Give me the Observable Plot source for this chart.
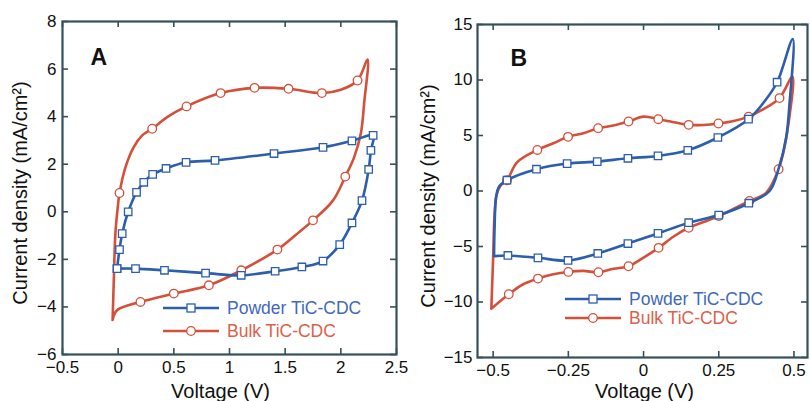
<!DOCTYPE html>
<html><head><meta charset="utf-8">
<script src="https://cdn.jsdelivr.net/npm/d3@7"></script>
<script src="https://cdn.jsdelivr.net/npm/@observablehq/plot@0.6"></script>
<style>
html,body{margin:0;padding:0;background:#fff;}
#wrap{position:relative;width:810px;height:401px;overflow:hidden;background:#fff;font-family:"Liberation Sans",Arial,Helvetica,sans-serif;}
.panel{position:absolute;top:0;}
.leg{position:absolute;display:flex;align-items:center;font-size:17.5px;line-height:16px;white-space:nowrap;}
.leg svg{display:block;margin-right:8px;}
</style></head><body><div id="wrap"></div>
<script>
// ---------- Panel A ----------
const xTicksA = [-0.5, 0, 0.5, 1, 1.5, 2, 2.5];
const yTicksA = [-6, -4, -2, 0, 2, 4, 6, 8];
// Powder TiC-CDC (line and square markers)
const powderA_V = [-0.01, 0.012, 0.036, 0.09, 0.165, 0.23, 0.31, 0.43, 0.61, 0.87, 1.40, 1.84, 2.10, 2.29, 2.27, 2.25, 2.19, 2.10, 1.99, 1.84, 1.65, 1.41, 1.105, 0.785, 0.416, 0.156, -0.01];
const powderA_J = [-2.39, -1.59, -0.92, 0.0, 0.82, 1.24, 1.57, 1.82, 2.08, 2.16, 2.45, 2.71, 2.98, 3.21, 2.58, 1.78, 0.47, -0.47, -1.38, -2.07, -2.32, -2.50, -2.67, -2.58, -2.46, -2.39, -2.39];
// Bulk TiC-CDC line
const bulkA_V = [-0.05, -0.04, -0.025, 0.0, 0.012, 0.066, 0.14, 0.216, 0.306, 0.44, 0.614, 0.92, 1.225, 1.53, 1.83, 2.0, 2.15, 2.24, 2.21, 2.18, 2.12, 2.04, 1.93, 1.75, 1.6, 1.43, 1.106, 0.815, 0.5, 0.2, -0.01, -0.05];
const bulkA_J = [-4.55, -3.02, -0.92, 0.35, 0.79, 1.88, 2.72, 3.21, 3.49, 3.98, 4.43, 4.99, 5.21, 5.17, 4.99, 5.13, 5.52, 6.4, 4.6, 3.3, 2.3, 1.48, 0.48, -0.36, -0.95, -1.59, -2.46, -3.09, -3.44, -3.79, -4.14, -4.55];
// Bulk TiC-CDC circle markers
const bulkA_markV = [0.012, 0.306, 0.614, 0.92, 1.225, 1.53, 1.83, 2.15, 2.04, 1.75, 1.43, 1.106, 0.815, 0.5, 0.2];
const bulkA_markJ = [0.79, 3.49, 4.43, 4.99, 5.21, 5.17, 4.99, 5.52, 1.48, -0.36, -1.59, -2.46, -3.09, -3.44, -3.79];

// ---------- Panel B ----------
const xTicksB = [-0.5, -0.25, 0, 0.25, 0.5];
const yTicksB = [-15, -10, -5, 0, 5, 10, 15];
const powderB_V = [-0.497, -0.495, -0.49, -0.48, -0.454, -0.356, -0.254, -0.154, -0.052, 0.048, 0.147, 0.247, 0.349, 0.40, 0.444, 0.496, 0.485, 0.474, 0.45, 0.419, 0.35, 0.25, 0.15, 0.048, -0.052, -0.152, -0.251, -0.351, -0.451, -0.497];
const powderB_J = [-5.87, -3.0, -0.5, 0.4, 0.97, 1.96, 2.47, 2.65, 2.95, 3.16, 3.67, 4.82, 6.47, 8.0, 9.8, 13.7, 7.8, 4.8, 2.1, 0.0, -1.1, -2.17, -2.86, -3.82, -4.73, -5.63, -6.26, -6.02, -5.81, -5.87];
const powderB_markV = [-0.454, -0.356, -0.254, -0.154, -0.052, 0.048, 0.147, 0.247, 0.349, 0.444, 0.35, 0.25, 0.15, 0.048, -0.052, -0.152, -0.251, -0.351, -0.451];
const powderB_markJ = [0.97, 1.96, 2.47, 2.65, 2.95, 3.16, 3.67, 4.82, 6.47, 9.8, -1.1, -2.17, -2.86, -3.82, -4.73, -5.63, -6.26, -6.02, -5.81];
const bulkB_V = [-0.506, -0.5, -0.495, -0.488, -0.475, -0.454, -0.42, -0.353, -0.3, -0.251, -0.2, -0.151, -0.1, -0.05, 0.0, 0.049, 0.1, 0.15, 0.2, 0.249, 0.3, 0.349, 0.4, 0.452, 0.495, 0.483, 0.468, 0.449, 0.408, 0.352, 0.3, 0.25, 0.2, 0.15, 0.1, 0.05, 0.0, -0.05, -0.1, -0.15, -0.2, -0.25, -0.3, -0.351, -0.4, -0.448, -0.506];
const bulkB_J = [-10.6, -6, -2, -0.3, 0.5, 0.97, 2.6, 3.70, 4.3, 4.88, 5.2, 5.66, 5.9, 6.26, 6.7, 6.47, 6.2, 5.96, 5.95, 6.08, 6.3, 6.7, 7.4, 8.37, 10.3, 6.3, 3.9, 1.96, -0.15, -0.9, -1.6, -2.26, -2.8, -3.31, -4.1, -5.12, -6.0, -6.78, -7.0, -7.32, -7.2, -7.29, -7.5, -7.89, -8.4, -9.3, -10.6];
const bulkB_markV = [-0.454, -0.353, -0.251, -0.151, -0.05, 0.049, 0.15, 0.249, 0.349, 0.452, 0.449, 0.352, 0.25, 0.15, 0.05, -0.05, -0.15, -0.25, -0.351, -0.448];
const bulkB_markJ = [0.97, 3.70, 4.88, 5.66, 6.26, 6.47, 5.96, 6.08, 6.7, 8.37, 1.96, -0.9, -2.26, -3.31, -5.12, -6.78, -7.32, -7.29, -7.89, -9.3];

const seriesNames = ["Powder TiC-CDC", "Bulk TiC-CDC"];

// ---------- styles ----------
const BLUE = "#2c5eae", RED = "#d4503a", FRAME = "#34505c";
const BLUE_TXT = "#4169bd", RED_TXT = "#de5f4a";
const FONT = "'Liberation Sans', Arial, Helvetica, sans-serif";
const fmt = d3.format("~g");
const pts = (V, J) => V.map((v, i) => ({v, j: J[i]}));

function panel(cfg) {
  const W = 405, H = 401;
  const pw = W - cfg.ml - cfg.mr, ph = H - cfg.mt - cfg.mb;
  const TL = 6;
  const marks = [
    Plot.tickX(cfg.xt, {x: d => d, stroke: FRAME, strokeWidth: 1.6, insetTop: ph - TL}),
    Plot.tickX(cfg.xt, {x: d => d, stroke: FRAME, strokeWidth: 1.6, insetBottom: ph - TL}),
    Plot.tickY(cfg.yt, {y: d => d, stroke: FRAME, strokeWidth: 1.6, insetRight: pw - TL}),
    Plot.tickY(cfg.yt, {y: d => d, stroke: FRAME, strokeWidth: 1.6, insetLeft: pw - TL}),
    Plot.axisX({ticks: cfg.xt, tickSize: 0, tickPadding: 6, tickFormat: fmt, label: null, fontSize: 17}),
    Plot.axisY({ticks: cfg.yt, tickSize: 0, tickPadding: cfg.ypad, tickFormat: fmt, label: null, fontSize: 17}),
    Plot.line(cfg.bulk, {x: "v", y: "j", stroke: RED, strokeWidth: 2.6, curve: "catmull-rom"}),
    Plot.dot(cfg.bulkM, {x: "v", y: "j", r: 4.3, fill: "white", stroke: RED, strokeWidth: 1.3}),
    Plot.line(cfg.powder, {x: "v", y: "j", stroke: BLUE, strokeWidth: 2.6, curve: "catmull-rom"}),
    Plot.dot(cfg.powderM, {x: "v", y: "j", symbol: "square", r: 4.2, fill: "white", stroke: BLUE, strokeWidth: 1.3}),
    Plot.frame({stroke: FRAME, strokeWidth: 2.2}),
    Plot.text([cfg.letter], {frameAnchor: "top-left", dx: cfg.ldx, dy: cfg.ldy, lineAnchor: "top", textAnchor: "start", fontSize: 23, fontWeight: "bold", fill: "#111"}),
    Plot.text(["Voltage (V)"], {frameAnchor: "bottom", dx: cfg.xlx, dy: cfg.xly, lineAnchor: "middle", textAnchor: "middle", fontSize: 20, fill: "#111"}),
    Plot.text(["Current density (mA/cm²)"], {frameAnchor: "left", dx: cfg.ylx, dy: 5, rotate: -90, lineAnchor: "top", textAnchor: "middle", fontSize: 20, fill: "#111"})
  ];
  return Plot.plot({
    width: W, height: H,
    marginLeft: cfg.ml, marginRight: cfg.mr, marginTop: cfg.mt, marginBottom: cfg.mb,
    x: {domain: cfg.xd}, y: {domain: cfg.yd},
    style: {fontFamily: FONT, fontSize: "17px", color: "#111", background: "none", overflow: "visible"},
    marks
  });
}

function legendRow(left, top, name, color, txtColor, shape) {
  const d = document.createElement("div");
  d.className = "leg";
  d.style.left = left + "px"; d.style.top = (top - 8) + "px"; d.style.color = txtColor;
  const marker = shape === "square"
    ? `<rect x="24" y="2" width="8" height="8" fill="white" stroke="${color}" stroke-width="1.3"/>`
    : `<circle cx="28" cy="6" r="4.3" fill="white" stroke="${color}" stroke-width="1.3"/>`;
  d.innerHTML = `<svg width="56" height="12"><line x1="0" y1="6" x2="56" y2="6" stroke="${color}" stroke-width="2.6"/>${marker}</svg><span>${name}</span>`;
  return d;
}

const wrap = document.getElementById("wrap");

const pA = panel({
  ml: 62, mr: 9, mt: 21, mb: 47, xd: [-0.5, 2.5], yd: [-6, 8], xt: xTicksA, yt: yTicksA, ypad: 6,
  powder: pts(powderA_V, powderA_J), powderM: pts(powderA_V, powderA_J),
  bulk: pts(bulkA_V, bulkA_J), bulkM: pts(bulkA_markV, bulkA_markJ),
  letter: "A", ldx: 28, ldy: 27, xlx: -9, xly: 37, ylx: -50
});
const dA = document.createElement("div"); dA.className = "panel"; dA.style.left = "0px"; dA.appendChild(pA); wrap.appendChild(dA);

const pB = panel({
  ml: 72, mr: 3, mt: 24, mb: 44, xd: [-0.552, 0.545], yd: [-15, 15], xt: xTicksB, yt: yTicksB, ypad: 5,
  powder: pts(powderB_V, powderB_J), powderM: pts(powderB_markV, powderB_markJ),
  bulk: pts(bulkB_V, bulkB_J), bulkM: pts(bulkB_markV, bulkB_markJ),
  letter: "B", ldx: 33, ldy: 25, xlx: 2, xly: 34, ylx: -57
});
const dB = document.createElement("div"); dB.className = "panel"; dB.style.left = "405px"; dB.appendChild(pB); wrap.appendChild(dB);

wrap.appendChild(legendRow(163, 308, seriesNames[0], BLUE, BLUE_TXT, "square"));
wrap.appendChild(legendRow(163, 331, seriesNames[1], RED, RED_TXT, "circle"));
wrap.appendChild(legendRow(565, 299, seriesNames[0], BLUE, BLUE_TXT, "square"));
wrap.appendChild(legendRow(565, 318, seriesNames[1], RED, RED_TXT, "circle"));
</script></body></html>
